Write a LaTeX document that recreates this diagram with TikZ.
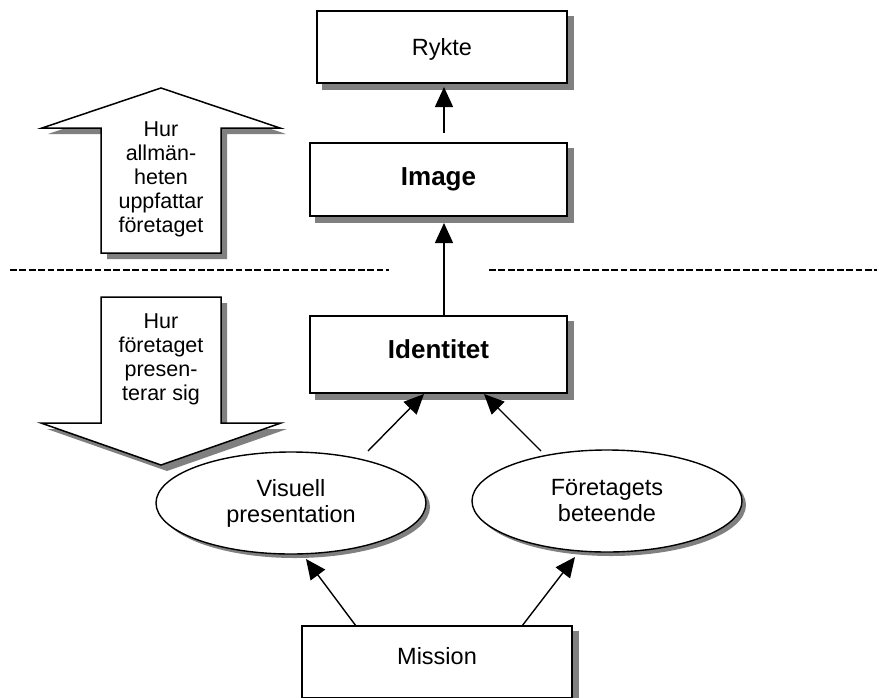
\documentclass[tikz,border=0pt]{standalone}
\usepackage{fontspec}
\setmainfont{Liberation Sans}
\usetikzlibrary{arrows.meta,shapes.geometric,calc}
\definecolor{shgray}{RGB}{128,128,128}
\pgfdeclarelayer{bg}
\pgfdeclarelayer{shadowlayer}
\pgfsetlayers{bg,shadowlayer,main}
\begin{document}
\begin{tikzpicture}[x=1pt,y=-1pt,
  boxnode/.style={draw=black,line width=1.7pt,fill=white,rectangle,inner sep=0pt},
  ellnode/.style={draw=black,line width=1.4pt,fill=white,ellipse,inner sep=0pt,
    minimum width=270pt,minimum height=102pt,align=center,
    font=\fontsize{23.5}{26}\selectfont},
  regtext/.style={font=\fontsize{23.5}{26}\selectfont},
  boldtext/.style={font=\fontsize{26}{30}\selectfont\bfseries},
  arrtext/.style={font=\fontsize{21.5}{24}\selectfont,align=center,inner sep=0pt},
  arr/.style={line width=1.4pt,-{Triangle[length=20pt,width=18pt]}},
  shad/.style={fill=shgray,draw=none},
  blockarrow/.style={line width=1.5pt,fill=white,line join=miter},
  divline/.style={line width=2.4pt,dash pattern=on 6.8pt off 2.6pt}]
\begin{pgfonlayer}{bg}
\fill[white] (0,0) rectangle (879,697);
\end{pgfonlayer}
\useasboundingbox (0,0) rectangle (879,697);

% boxes
\node[boxnode,regtext,minimum width=250pt,minimum height=72pt,text height=16.8pt,text depth=0pt] (rykte) at (442,47) {Rykte};
\node[boxnode,boldtext,minimum width=257pt,minimum height=73pt,text height=18.6pt,text depth=7.6pt] (image) at (438.5,179.5) {Image};
\node[boxnode,boldtext,minimum width=257pt,minimum height=77pt,text height=18.6pt,text depth=11.6pt] (ident) at (438.5,354.5) {Identitet};
\node[boxnode,regtext,minimum width=270pt,minimum height=72pt,text height=16.8pt,text depth=12.5pt] (mission) at (437,662) {Mission};

% ellipses
\node[ellnode] (visuell) at (291,503) {Visuell\\presentation};
\node[ellnode] (beteende) at (607,501) {Företagets\\beteende};

% block arrows (outline coordinates)
\coordinate (ua1) at (101,253);
\coordinate (ua2) at (101,128);
\coordinate (ua3) at (42,128);
\coordinate (ua4) at (161,88);
\coordinate (ua5) at (280,128);
\coordinate (ua6) at (221,128);
\coordinate (ua7) at (221,253);
\coordinate (da1) at (101,297);
\coordinate (da2) at (221,297);
\coordinate (da3) at (221,423);
\coordinate (da4) at (281,423);
\coordinate (da5) at (161,465);
\coordinate (da6) at (41,423);
\coordinate (da7) at (101,423);

% shadows
\begin{pgfonlayer}{shadowlayer}
\foreach \n in {rykte,image,ident,mission}{
  \fill[shad] ($(\n.north west)+(6,6)$) rectangle ($(\n.south east)+(6,6)$);
}
\fill[shad] ($(visuell.center)+(4,4)$) ellipse [x radius=135pt, y radius=51pt];
\fill[shad] ($(beteende.center)+(4,4)$) ellipse [x radius=135pt, y radius=51pt];
\fill[shad] ($(ua1)+(6,6)$) -- ($(ua2)+(6,6)$) -- ($(ua3)+(6,6)$) -- ($(ua4)+(6,6)$) -- ($(ua5)+(6,6)$) -- ($(ua6)+(6,6)$) -- ($(ua7)+(6,6)$) -- cycle;
\fill[shad] ($(da1)+(6,6)$) -- ($(da2)+(6,6)$) -- ($(da3)+(6,6)$) -- ($(da4)+(6,6)$) -- ($(da5)+(6,6)$) -- ($(da6)+(6,6)$) -- ($(da7)+(6,6)$) -- cycle;
\end{pgfonlayer}

\draw[blockarrow] (ua1) -- (ua2) -- (ua3) -- (ua4) -- (ua5) -- (ua6) -- (ua7) -- cycle;
\node[arrtext] (uptext) at (161,179) {Hur\\allmän-\\heten\\uppfattar\\företaget};

\draw[blockarrow] (da1) -- (da2) -- (da3) -- (da4) -- (da5) -- (da6) -- (da7) -- cycle;
\node[arrtext] (downtext) at (161,359) {Hur\\företaget\\presen-\\terar sig};

% dividing line
\coordinate (d1) at (10,270);
\coordinate (d2) at (389,270);
\coordinate (d3) at (489,270);
\coordinate (d4) at (877,270);
\draw[divline] (d1) -- (d2);
\draw[divline] (d3) -- (d4);

% connectors
\coordinate (i1) at (444,133);
\coordinate (r1) at (444,87);
\draw[arr] (i1) -- (r1);
\coordinate (id1) at (444,316);
\coordinate (im1) at (444,223);
\draw[arr] (id1) -- (im1);
\coordinate (v1) at (368,451);
\coordinate (id2) at (424,394);
\draw[arr] (v1) -- (id2);
\coordinate (b1) at (541,451);
\coordinate (id3) at (484,394);
\draw[arr] (b1) -- (id3);
\coordinate (m1) at (356,626);
\coordinate (v2) at (306,559);
\draw[arr] (m1) -- (v2);
\coordinate (m2) at (522,626);
\coordinate (b2) at (575,557);
\draw[arr] (m2) -- (b2);
\end{tikzpicture}
\end{document}
